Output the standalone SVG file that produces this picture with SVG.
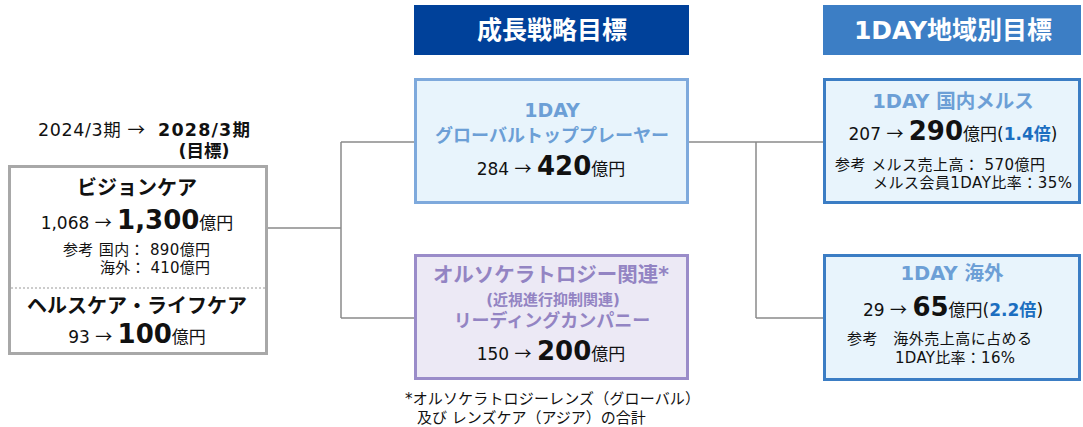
<svg xmlns="http://www.w3.org/2000/svg" width="1083" height="427" viewBox="0 0 1083 427">
<style>
text{font-family:"DejaVu Sans","Noto Sans CJK JP",sans-serif;fill:#111;}
.b{font-weight:bold;}
.m{text-anchor:middle;}
.ar{font-family:"Noto Sans CJK JP",sans-serif;}
.hdr{fill:#fff;font-weight:bold;font-size:25px;text-anchor:middle;}
.blue{fill:#6C9FD6;font-weight:bold;}
.purple{fill:#9384C3;font-weight:bold;}
.acc{fill:#1B6EC0;font-weight:bold;}
.big{font-weight:bold;font-size:26px;}
.conn{stroke:#8A8A8A;stroke-width:1.5;fill:none;}
</style>
<rect width="1083" height="427" fill="#fff"/>

<g id="connectors">
<path class="conn" d="M268 228H341M341 142V318M341 142H414M341 318H414"/>
<path class="conn" d="M689 142H823M756 142V318M756 318H823"/>
</g>

<g id="period">
<text x="38" y="136" font-size="17.5" textLength="107">2024/3期 <tspan class="ar">→</tspan></text>
<text x="158" y="136" font-size="17.5" class="b" textLength="92">2028/3期</text>
<text x="204" y="157" font-size="17.5" class="b m">(目標)</text>
</g>

<g id="left-box">
<rect x="9.5" y="166.5" width="257" height="187" fill="#fff" stroke="#A8A8A8" stroke-width="3"/>
<line x1="11" y1="288" x2="265" y2="288" stroke="#999" stroke-width="1" stroke-dasharray="2,2"/>
<text x="137" y="195" font-size="20" class="b m">ビジョンケア</text>
<text x="137" y="229" font-size="17" class="m">1,068 <tspan class="ar">→</tspan> <tspan class="big">1,300</tspan>億円</text>
<text x="63" y="255" font-size="15" textLength="147">参考 国内： 890億円</text>
<text x="100" y="273" font-size="15" textLength="110">海外： 410億円</text>
<text x="137" y="313" font-size="20" class="b m">ヘルスケア・ライフケア</text>
<text x="137" y="343" font-size="17" class="m">93 <tspan class="ar">→</tspan> <tspan class="big">100</tspan>億円</text>
</g>

<g id="header-strategy">
<rect x="414" y="5" width="275" height="50" fill="#00419A"/>
<text x="552" y="39" class="hdr">成長戦略目標</text>
</g>

<g id="header-region">
<rect x="823" y="5" width="258" height="50" fill="#3C7EC5"/>
<text x="953" y="39" class="hdr">1DAY地域別目標</text>
</g>

<g id="global-top">
<rect x="415.5" y="79.5" width="272" height="123" fill="#E8F4FC" stroke="#7EA9DC" stroke-width="3"/>
<text x="552" y="117" font-size="19" class="blue m">1DAY</text>
<text x="552" y="142" font-size="18" class="blue m">グローバルトッププレーヤー</text>
<text x="551" y="175" font-size="17" class="m">284 <tspan class="ar">→</tspan> <tspan class="big">420</tspan>億円</text>
</g>

<g id="ortho">
<rect x="415.5" y="255.5" width="272" height="123" fill="#ECE9F5" stroke="#9A8CC9" stroke-width="3"/>
<text x="551" y="282" font-size="20.5" class="purple m">オルソケラトロジー関連*</text>
<text x="553" y="305" font-size="15" class="purple m">(近視進行抑制関連)</text>
<text x="552" y="327" font-size="18" class="purple m">リーディングカンパニー</text>
<text x="551" y="360" font-size="17" class="m">150 <tspan class="ar">→</tspan> <tspan class="big">200</tspan>億円</text>
</g>

<g id="footnote">
<text x="405" y="404" font-size="15" textLength="295">*オルソケラトロジーレンズ（グローバル）</text>
<text x="417" y="423" font-size="15">及び レンズケア（アジア）の合計</text>
</g>

<g id="domestic">
<rect x="824.5" y="79.5" width="255" height="123" fill="#E8F4FC" stroke="#3B7DC4" stroke-width="3"/>
<text x="953" y="108" font-size="19.5" class="blue m">1DAY 国内メルス</text>
<text x="953" y="140" font-size="17" class="m">207 <tspan class="ar">→</tspan> <tspan class="big">290</tspan>億円(<tspan class="acc">1.4倍</tspan>)</text>
<text x="835" y="170" font-size="15" textLength="210">参考 メルス売上高： 570億円</text>
<text x="873" y="188" font-size="15" textLength="199">メルス会員1DAY比率：35%</text>
</g>

<g id="overseas">
<rect x="824.5" y="255.5" width="255" height="124" fill="#E8F4FC" stroke="#3B7DC4" stroke-width="3"/>
<text x="952" y="280" font-size="19.5" class="blue m">1DAY 海外</text>
<text x="953" y="316" font-size="17" class="m">29 <tspan class="ar">→</tspan> <tspan class="big">65</tspan>億円(<tspan class="acc">2.2倍</tspan>)</text>
<text x="847" y="344" font-size="15" textLength="185">参考　海外売上高に占める</text>
<text x="895" y="363" font-size="15" textLength="120">1DAY比率：16%</text>
</g>
</svg>
